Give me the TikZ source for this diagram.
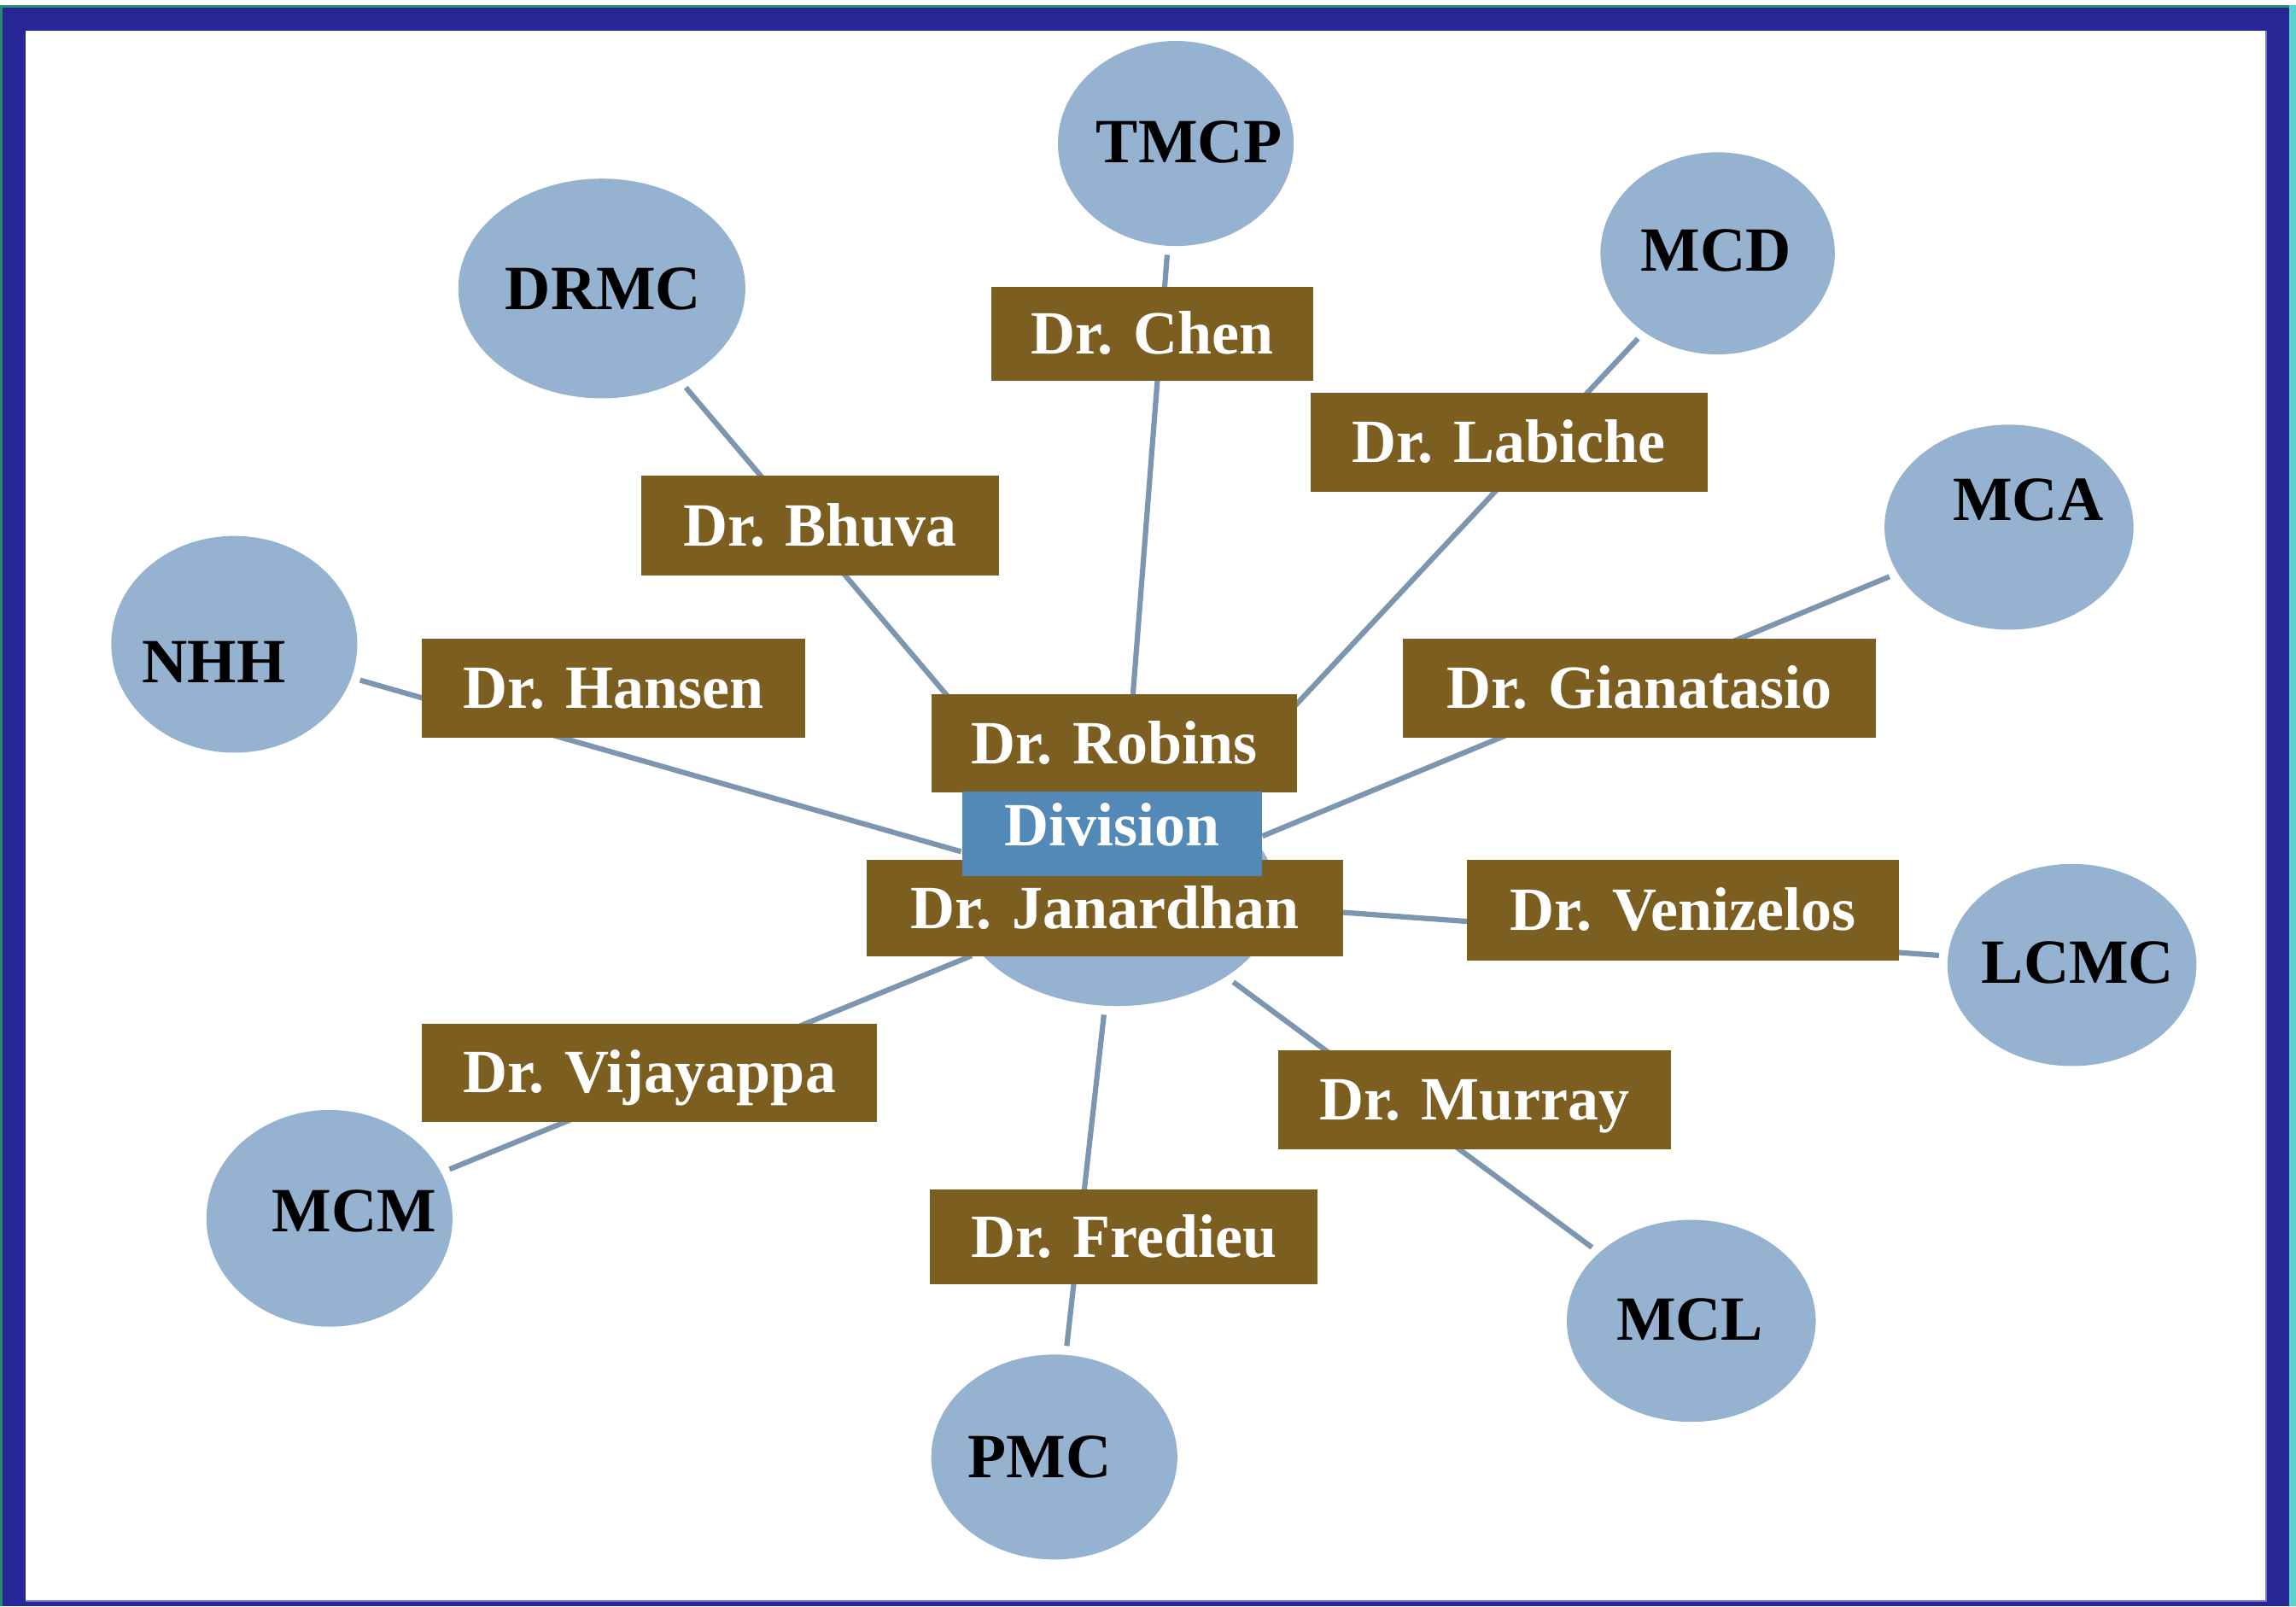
\documentclass[tikz,border=0pt]{standalone}
\usepackage{fontspec}
\setmainfont{Liberation Serif}
\usetikzlibrary{shapes.geometric}
\definecolor{framblue}{RGB}{38,38,150}
\definecolor{framteal}{RGB}{40,140,110}
\definecolor{framcyan}{RGB}{90,210,205}
\definecolor{framlav}{RGB}{120,120,200}
\definecolor{ellfill}{RGB}{149,179,209}
\definecolor{brownbox}{RGB}{123,94,32}
\definecolor{divblue}{RGB}{82,137,182}
\definecolor{linecol}{RGB}{125,150,175}
\pgfdeclarelayer{frame}
\pgfdeclarelayer{background}
\pgfsetlayers{frame,background,main}
\begin{document}
\begin{tikzpicture}[x=1pt,y=-1pt,
  site/.style={ellipse, fill=ellfill, draw=none, inner sep=0pt},
  sitelabel/.style={font=\fontsize{43}{50}\selectfont\bfseries, text=black, inner sep=0pt, text height=28.4pt, text depth=0pt},
  docbox/.style={fill=brownbox, text=white, font=\fontsize{42}{50}\selectfont\bfseries, inner sep=0pt, text height=27.7pt, text depth=0pt},
  divbox/.style={docbox, fill=divblue, text depth=12pt},
  conn/.style={draw=linecol, line width=3.6pt, shorten <=6pt, shorten >=6pt}]
\useasboundingbox (0,0) rectangle (1568,1097);
\begin{pgfonlayer}{frame}
  \fill[white] (0,0) rectangle (1568,1097);
  \fill[framteal] (0,3.5) rectangle (1563.3,1097);
  \fill[framblue] (1.7,5.2) rectangle (1563.3,1097);
  \fill[framcyan] (1563.3,3.5) rectangle (1568,1097);
  \fill[white] (17.5,21) rectangle (1547.5,1093.3);
  \draw[framlav, line width=0.8pt] (17.5,1093.3) -- (1547.5,1093.3) -- (1547.5,21);
\end{pgfonlayer}
% sites
\node[site, minimum width=218pt, minimum height=150pt] (hub) at (763,612) {};
\node[site, minimum width=161pt, minimum height=140pt] (eTMCP) at (803,98) {};
\node[site, minimum width=196pt, minimum height=150pt] (eDRMC) at (411,197) {};
\node[site, minimum width=160pt, minimum height=138pt] (eMCD) at (1173,173) {};
\node[site, minimum width=170pt, minimum height=140pt] (eMCA) at (1372,360) {};
\node[site, minimum width=168pt, minimum height=148pt] (eNHH) at (160,440) {};
\node[site, minimum width=170pt, minimum height=138pt] (eLCMC) at (1415,659) {};
\node[site, minimum width=168pt, minimum height=148pt] (eMCM) at (225,832) {};
\node[site, minimum width=168pt, minimum height=140pt] (ePMC) at (720,995) {};
\node[site, minimum width=170pt, minimum height=138pt] (eMCL) at (1155,902) {};
\node[sitelabel] (lTMCP) at (812,97) {TMCP};
\node[sitelabel] (lDRMC) at (412,197) {DRMC};
\node[sitelabel] (lMCD) at (1172,171) {MCD};
\node[sitelabel] (lMCA) at (1385,341) {MCA};
\node[sitelabel] (lNHH) at (146,452) {NHH};
\node[sitelabel] (lLCMC) at (1419,657) {LCMC};
\node[sitelabel] (lMCM) at (242,827) {MCM};
\node[sitelabel] (lPMC) at (710,995) {PMC};
\node[sitelabel] (lMCL) at (1154,901) {MCL};
% connectors
\begin{pgfonlayer}{background}
  \draw[conn] (hub) -- (eTMCP);
  \draw[conn] (hub) -- (eDRMC);
  \draw[conn] (hub) -- (eMCD);
  \draw[conn] (hub) -- (eMCA);
  \draw[conn] (hub) -- (eNHH);
  \draw[conn] (hub) -- (eLCMC);
  \draw[conn] (hub) -- (eMCM);
  \draw[conn] (hub) -- (ePMC);
  \draw[conn] (hub) -- (eMCL);
\end{pgfonlayer}
% name boxes
\node[docbox, minimum width=220pt, minimum height=64pt] (chen) at (787,228) {Dr. Chen};
\node[docbox, minimum width=271pt, minimum height=68pt] (labiche) at (1030.5,302) {Dr. Labiche};
\node[docbox, minimum width=244pt, minimum height=68pt] (bhuva) at (560,359) {Dr. Bhuva};
\node[docbox, minimum width=262pt, minimum height=68pt] (hansen) at (419,470) {Dr. Hansen};
\node[docbox, minimum width=323pt, minimum height=68pt] (gianatasio) at (1119.5,470) {Dr. Gianatasio};
\node[docbox, minimum width=250pt, minimum height=67pt] (robins) at (761,507.5) {Dr. Robins};
\node[docbox, minimum width=325pt, minimum height=66pt] (janardhan) at (754.5,620) {Dr. Janardhan};
\node[divbox, minimum width=205pt, minimum height=58pt] (division) at (759.5,569.5) {Division};
\node[docbox, minimum width=295pt, minimum height=69pt] (venizelos) at (1149.5,621.5) {Dr. Venizelos};
\node[docbox, minimum width=311pt, minimum height=67pt] (vijayappa) at (443.5,732.5) {Dr. Vijayappa};
\node[docbox, minimum width=268pt, minimum height=68pt] (murray) at (1007,751) {Dr. Murray};
\node[docbox, minimum width=265pt, minimum height=65pt] (fredieu) at (767.5,844.5) {Dr. Fredieu};
\end{tikzpicture}
\end{document}
